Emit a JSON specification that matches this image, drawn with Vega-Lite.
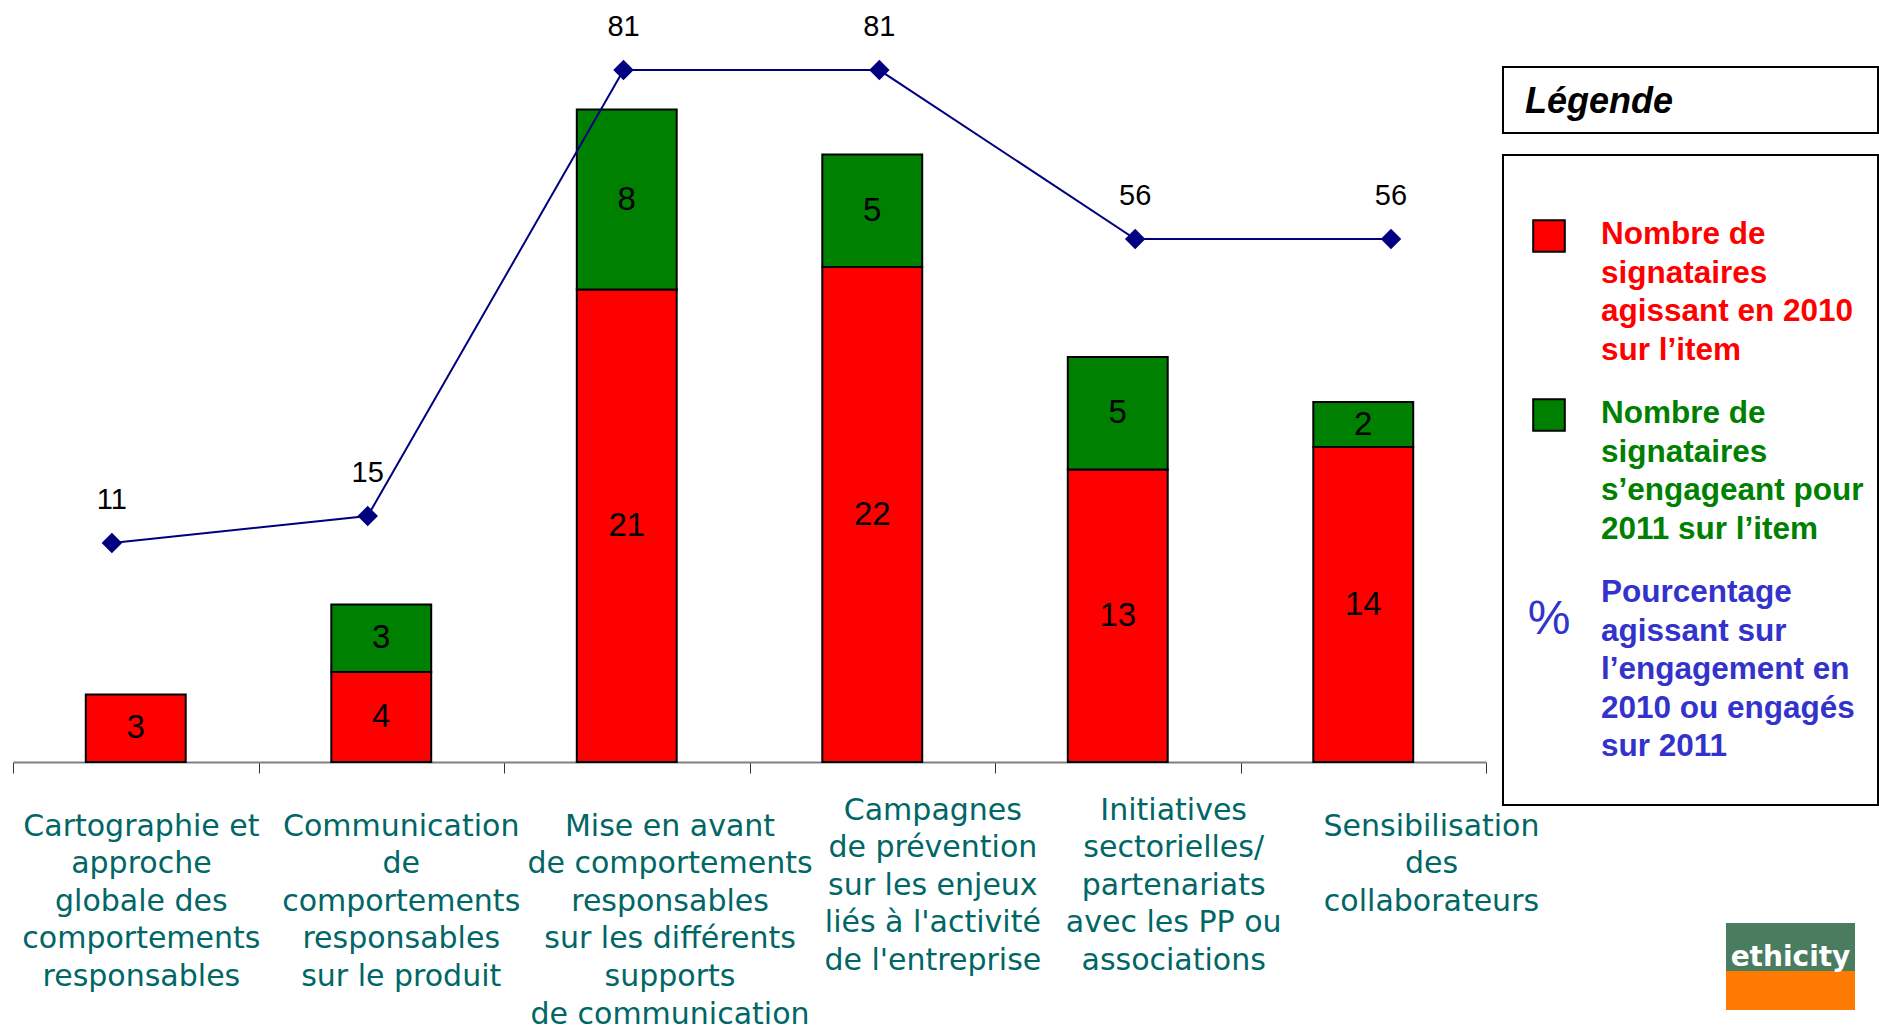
{
  "$schema": "https://vega.github.io/schema/vega-lite/v6.json",
  "background": "white",
  "padding": {"left": 12, "top": 0, "right": 0, "bottom": 0},
  "bounds": "flush",
  "spacing": 17,
  "resolve": {"scale": {"color": "independent"}},
  "config": {"view": {"stroke": null}, "font": "Liberation Sans"},
  "datasets": {
    "barres": [
      {"item": "Cartographie et|approche|globale des|comportements|responsables", "serie": "2010", "valeur": 3},
      {"item": "Communication|de|comportements|responsables|sur le produit", "serie": "2010", "valeur": 4},
      {"item": "Communication|de|comportements|responsables|sur le produit", "serie": "2011", "valeur": 3},
      {"item": "Mise en avant|de comportements|responsables|sur les différents|supports|de communication", "serie": "2010", "valeur": 21},
      {"item": "Mise en avant|de comportements|responsables|sur les différents|supports|de communication", "serie": "2011", "valeur": 8},
      {"item": "Campagnes|de prévention|sur les enjeux|liés à l'activité|de l'entreprise", "serie": "2010", "valeur": 22},
      {"item": "Campagnes|de prévention|sur les enjeux|liés à l'activité|de l'entreprise", "serie": "2011", "valeur": 5},
      {"item": "Initiatives|sectorielles/|partenariats|avec les PP ou|associations", "serie": "2010", "valeur": 13},
      {"item": "Initiatives|sectorielles/|partenariats|avec les PP ou|associations", "serie": "2011", "valeur": 5},
      {"item": "Sensibilisation|des|collaborateurs", "serie": "2010", "valeur": 14},
      {"item": "Sensibilisation|des|collaborateurs", "serie": "2011", "valeur": 2}
    ],
    "taux": [
      {"item": "Cartographie et|approche|globale des|comportements|responsables", "pct": 11},
      {"item": "Communication|de|comportements|responsables|sur le produit", "pct": 15},
      {"item": "Mise en avant|de comportements|responsables|sur les différents|supports|de communication", "pct": 81},
      {"item": "Campagnes|de prévention|sur les enjeux|liés à l'activité|de l'entreprise", "pct": 81},
      {"item": "Initiatives|sectorielles/|partenariats|avec les PP ou|associations", "pct": 56},
      {"item": "Sensibilisation|des|collaborateurs", "pct": 56}
    ],
    "legende": [
      {"cle": "2010", "symbole": "", "texte": "Nombre de|signataires|agissant en 2010|sur l’item"},
      {"cle": "2011", "symbole": "", "texte": "Nombre de|signataires|s’engageant pour|2011 sur l’item"},
      {"cle": "pct", "symbole": "%", "texte": "Pourcentage|agissant sur|l’engagement en|2010 ou engagés|sur 2011"}
    ]
  },
  "hconcat": [
    {
      "width": 1473,
      "height": 762,
      "layer": [
        {
          "data": {"name": "barres"},
          "transform": [
            {"stack": "valeur", "groupby": ["item"], "sort": [{"field": "serie", "order": "ascending"}], "as": ["bas", "haut"]},
            {"calculate": "(datum.bas + datum.haut) / 2", "as": "milieu"}
          ],
          "encoding": {
            "x": {
              "field": "item", "type": "nominal", "sort": null,
              "scale": {"type": "band", "paddingInner": 0, "paddingOuter": 0},
              "axis": {
                "orient": "bottom", "labels": false, "title": null, "grid": false,
                "ticks": true, "tickBand": "extent", "tickSize": 11, "tickColor": "#333333", "tickWidth": 1,
                "domain": true, "domainColor": "#808080", "domainWidth": 2
              }
            }
          },
          "layer": [
            {
              "mark": {"type": "bar", "width": {"band": 0.407}, "stroke": "black", "strokeWidth": 2},
              "encoding": {
                "y": {"field": "bas", "type": "quantitative", "scale": {"domain": [0, 33.87], "nice": false, "zero": true}, "axis": null},
                "y2": {"field": "haut"},
                "color": {"field": "serie", "type": "nominal", "scale": {"domain": ["2010", "2011"], "range": ["#ff0000", "#008000"]}, "legend": null}
              }
            },
            {
              "mark": {"type": "text", "font": "Liberation Sans", "fontSize": 33, "baseline": "middle", "color": "black"},
              "encoding": {
                "y": {"field": "milieu", "type": "quantitative"},
                "text": {"field": "valeur", "type": "quantitative"}
              }
            }
          ]
        },
        {
          "data": {"name": "taux"},
          "encoding": {
            "x": {
              "field": "item", "type": "nominal", "sort": null,
              "scale": {"type": "point", "padding": 0.379, "align": 0.51},
              "axis": {
                "orient": "bottom", "domain": false, "ticks": false, "grid": false, "title": null,
                "labelExpr": "split(datum.label, '|')",
                "labelOffset": {
                  "condition": [
                    {"test": "indexof(datum.value, 'Cartographie') === 0", "value": 29},
                    {"test": "indexof(datum.value, 'Communication') === 0", "value": 33},
                    {"test": "indexof(datum.value, 'Mise en avant') === 0", "value": 46},
                    {"test": "indexof(datum.value, 'Campagnes') === 0", "value": 53},
                    {"test": "indexof(datum.value, 'Initiatives') === 0", "value": 38}
                  ],
                  "value": 40
                },
                "labelPadding": {
                  "condition": {"test": "indexof(datum.value, 'Campagnes') === 0 || indexof(datum.value, 'Initiatives') === 0", "value": 33},
                  "value": 49
                },
                "labelBaseline": "top", "labelAlign": "center", "labelAngle": 0,
                "labelFont": "DejaVu Sans", "labelFontSize": 30, "labelLineHeight": 37.6, "labelColor": "#006666",
                "labelLimit": 400, "labelOverlap": false, "labelFlush": false, "labelBound": false
              }
            },
            "y": {"field": "pct", "type": "quantitative", "scale": {"domain": [-21.4, 91.37], "nice": false, "zero": false}, "axis": null}
          },
          "layer": [
            {
              "mark": {"type": "line", "color": "#000080", "strokeWidth": 2,
                       "point": {"shape": "diamond", "size": 420, "filled": true, "color": "#000080"}}
            },
            {
              "mark": {"type": "text", "font": "Liberation Sans", "fontSize": 29, "baseline": "middle", "dy": -43, "color": "black"},
              "encoding": {"text": {"field": "pct", "type": "quantitative"}}
            }
          ]
        }
      ],
      "resolve": {"scale": {"x": "independent", "y": "independent"}}
    },
    {
      "bounds": "flush",
      "spacing": 0,
      "vconcat": [
        {"width": 1, "height": 67, "data": {"values": []}, "mark": "point"},
        {
          "width": 375, "height": 66,
          "view": {"stroke": "black", "strokeWidth": 2},
          "title": {
            "text": "Légende", "orient": "top", "anchor": "start", "frame": "group",
            "offset": -82, "dx": 22, "baseline": "alphabetic",
            "font": "Liberation Sans", "fontSize": 36, "fontWeight": "bold", "fontStyle": "italic", "color": "black"
          },
          "data": {"values": []},
          "mark": "point"
        },
        {"width": 1, "height": 22, "data": {"values": []}, "mark": "point"},
        {
          "width": 375, "height": 650,
          "view": {"stroke": "black", "strokeWidth": 2},
          "data": {"name": "legende"},
          "encoding": {
            "y": {"field": "cle", "type": "nominal", "sort": null, "scale": {"type": "point", "padding": 0, "range": [89, 447]}, "axis": null},
            "color": {"field": "cle", "type": "nominal", "scale": {"domain": ["2010", "2011", "pct"], "range": ["#ff0000", "#008000", "#3333cc"]}, "legend": null}
          },
          "layer": [
            {
              "transform": [{"filter": "datum.cle !== 'pct'"}],
              "mark": {"type": "square", "filled": true, "opacity": 1, "size": 1000, "stroke": "black", "strokeWidth": 2, "yOffset": -8},
              "encoding": {
                "x": {"datum": "symbole", "type": "nominal", "scale": {"type": "point", "padding": 0, "domain": ["symbole", "libelle"], "range": [46, 98]}, "axis": null}
              }
            },
            {
              "transform": [{"filter": "datum.cle === 'pct'"}],
              "mark": {"type": "text", "font": "Liberation Sans", "fontSize": 48, "align": "center", "baseline": "middle", "dy": 18},
              "encoding": {
                "x": {"datum": "symbole", "type": "nominal"},
                "text": {"field": "symbole"}
              }
            },
            {
              "mark": {"type": "text", "font": "Liberation Sans", "fontSize": 31.5, "fontWeight": "bold", "align": "left", "baseline": "alphabetic", "lineBreak": "|", "lineHeight": 38.5},
              "encoding": {
                "x": {"datum": "libelle", "type": "nominal"},
                "text": {"field": "texte"}
              }
            }
          ]
        },
        {"width": 1, "height": 118, "data": {"values": []}, "mark": "point"},
        {
          "bounds": "flush",
          "spacing": 0,
          "hconcat": [
            {"width": 223, "height": 1, "data": {"values": []}, "mark": "point"},
            {
              "bounds": "flush",
              "spacing": 0,
              "vconcat": [
                {"width": 129, "height": 48, "view": {"fill": "#4a7c60", "stroke": null}, "data": {"values": []}, "mark": "point"},
                {
                  "width": 129, "height": 39,
                  "view": {"fill": "#ff7a00", "stroke": null},
                  "title": {
                    "text": "ethicity", "orient": "top", "anchor": "middle", "frame": "group",
                    "offset": -23, "baseline": "alphabetic",
                    "font": "DejaVu Sans", "fontSize": 28, "fontWeight": "bold", "color": "white"
                  },
                  "data": {"values": []},
                  "mark": "point"
                }
              ]
            }
          ]
        }
      ]
    }
  ]
}
